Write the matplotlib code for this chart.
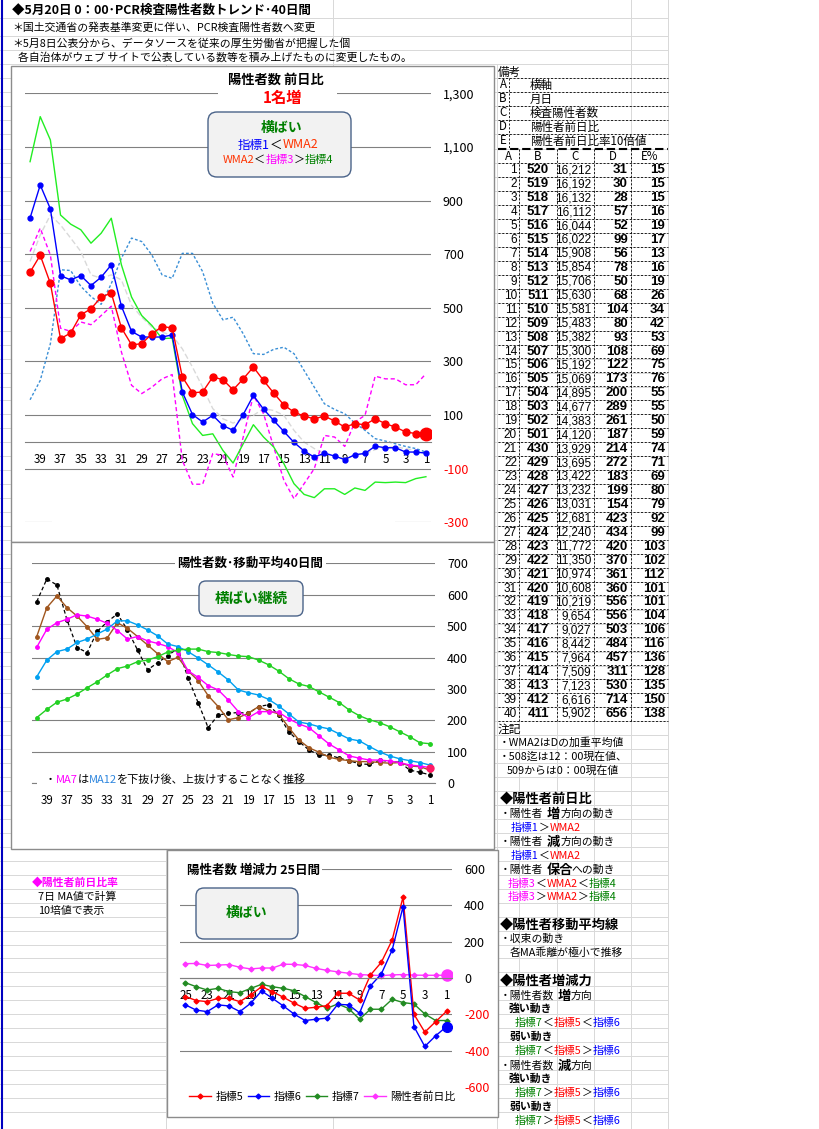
import matplotlib
matplotlib.use('Agg')
import matplotlib.pyplot as plt
from matplotlib.patches import Rectangle, FancyBboxPatch

plt.rcParams['font.family'] = ['Noto Sans CJK JP', 'DejaVu Sans']
plt.rcParams['axes.unicode_minus'] = False

# ---------------- data ----------------
days40 = list(range(40, 0, -1))
days25 = list(range(25, 0, -1))

# chart 1 : 陽性者数 前日比
ind1 = [835, 958, 869, 620, 604, 620, 583, 614, 660, 506, 412, 391, 391, 391, 399, 186, 102, 74, 99, 61,
        43, 102, 173, 122, 80, 39, -2, -34, -57, -42, -53, -66, -48, -43, -16, -22, -22, -38, -38, -42]
wma2 = [633, 696, 591, 385, 406, 474, 496, 540, 555, 425, 362, 366, 403, 430, 425, 242, 183, 186, 242, 232,
        194, 235, 279, 229, 182, 138, 111, 96, 86, 96, 78, 55, 68, 64, 86, 68, 55, 37, 31, 31]
ind2 = [157, 229, 366, 642, 639, 580, 542, 513, 590, 685, 760, 747, 697, 623, 610, 703, 703, 635, 517, 455,
        465, 403, 329, 326, 345, 353, 329, 266, 204, 142, 121, 105, 70, 43, 12, 3, -7, -17, -25, -38]
ind3 = [710, 797, 697, 424, 412, 447, 437, 471, 506, 335, 211, 180, 204, 235, 251, -69, -158, -158, -44, -50,
        -131, 18, 173, 105, -19, -143, -212, -156, -100, 24, 18, -17, 74, 99, 245, 235, 235, 213, 213, 254]
ind4 = [1045, 1213, 1126, 846, 812, 791, 741, 778, 834, 660, 540, 471, 434, 385, 387, 173, 68, 24, 30, -32,
        -79, -7, 64, 18, -19, -81, -156, -196, -208, -175, -175, -196, -172, -181, -150, -152, -150, -152, -137, -130]
gray = [673, 772, 846, 809, 760, 710, 623, 610, 623, 604, 509, 465, 428, 409, 397, 347, 279, 204, 124, 86,
        70, 86, 99, 124, 117, 99, 43, -1, -25, -44, -50, -63, -50, -44, -29, -19, -19, -25, -32, -42]

# chart 2 : 移動平均
ma3 = [578, 650, 631, 520, 432, 416, 483, 514, 539, 488, 424, 361, 384, 406, 430, 336, 257, 177, 217, 223,
       225, 223, 244, 250, 217, 164, 133, 106, 90, 90, 80, 72, 62, 60, 74, 69, 67, 42, 35, 27]
ma5 = [467, 559, 596, 559, 532, 498, 458, 463, 511, 493, 467, 440, 412, 387, 401, 358, 327, 279, 244, 202,
       209, 223, 244, 230, 221, 177, 138, 113, 99, 83, 76, 72, 69, 69, 66, 64, 66, 55, 53, 42]
ma7 = [433, 490, 511, 522, 536, 532, 522, 509, 486, 459, 467, 453, 445, 435, 416, 358, 337, 311, 297, 265,
       228, 209, 228, 228, 226, 205, 189, 177, 151, 125, 106, 87, 80, 74, 74, 71, 66, 58, 55, 50]
ma12 = [339, 392, 419, 427, 448, 459, 475, 491, 517, 517, 504, 488, 469, 443, 435, 419, 399, 377, 354, 329,
        297, 288, 281, 267, 246, 221, 195, 189, 180, 173, 157, 141, 135, 117, 100, 87, 78, 72, 66, 58]
ma24 = [209, 235, 258, 268, 284, 304, 323, 345, 365, 373, 387, 392, 403, 418, 424, 427, 427, 419, 416, 410,
        405, 403, 392, 377, 357, 333, 316, 308, 291, 274, 257, 233, 215, 202, 193, 180, 164, 148, 129, 126]

# chart 3 : 増減力
ind5 = [-102, -124, -130, -112, -112, -130, -93, -48, -75, -106, -139, -167, -161, -152, -84, -84, -121,
        16, 86, 209, 446, -199, -298, -240, -183]
ind6 = [-148, -177, -185, -148, -154, -185, -139, -71, -112, -154, -199, -234, -227, -221, -145, -148, -194,
        -44, 22, 154, 392, -267, -377, -318, -267]
ind7 = [-26, -48, -66, -57, -75, -81, -57, -35, -48, -57, -70, -102, -135, -167, -143, -168, -227, -172,
        -172, -117, -135, -143, -198, -234, -234]
ratio = [79, 80, 69, 71, 74, 59, 50, 55, 55, 76, 75, 69, 53, 42, 34, 26, 19, 16, 13, 17, 19, 16, 15, 15, 15]

# table
tbl_B = [520, 519, 518, 517, 516, 515, 514, 513, 512, 511, 510, 509, 508, 507, 506, 505, 504, 503, 502, 501,
         430, 429, 428, 427, 426, 425, 424, 423, 422, 421, 420, 419, 418, 417, 416, 415, 414, 413, 412, 411]
tbl_C = [16212, 16192, 16132, 16112, 16044, 16022, 15908, 15854, 15706, 15630, 15581, 15483, 15382, 15300,
         15192, 15069, 14895, 14677, 14383, 14120, 13929, 13695, 13422, 13232, 13031, 12681, 12240, 11772,
         11350, 10974, 10608, 10219, 9654, 9027, 8442, 7964, 7509, 7123, 6616, 5902]
tbl_D = [31, 30, 28, 57, 52, 99, 56, 78, 50, 68, 104, 80, 93, 108, 122, 173, 200, 289, 261, 187,
         214, 272, 183, 199, 154, 423, 434, 420, 370, 361, 360, 556, 556, 503, 484, 457, 311, 530, 714, 656]
tbl_E = [15, 15, 15, 16, 19, 17, 13, 16, 19, 26, 34, 42, 53, 69, 75, 76, 55, 55, 50, 59,
         74, 71, 69, 80, 79, 92, 99, 103, 102, 112, 101, 101, 104, 106, 116, 136, 128, 135, 150, 138]

# ---------------- figure ----------------
W, H = 819, 1129
fig = plt.figure(figsize=(W / 100, H / 100), dpi=100)
R = fig.canvas.get_renderer()
PX = 0.72  # 1 px in points


def frect(x0, y0, x1, y1):
    return [x0 / W, 1 - y1 / H, (x1 - x0) / W, (y1 - y0) / H]


def pix_axes(z):
    a = fig.add_axes([0, 0, 1, 1], zorder=z)
    a.set_xlim(0, W)
    a.set_ylim(H, 0)
    a.axis('off')
    a.patch.set_alpha(0)
    return a


bg = pix_axes(0)
ov = pix_axes(10)


def rich(ax, x, y, parts, size, weight='normal', ha='left', family=None):
    arts, ws = [], []
    for p in parts:
        kw = dict(fontsize=p[3] if len(p) > 3 else size, color=p[1],
                  fontweight=p[2] if len(p) > 2 else weight, va='center', ha='left', zorder=6)
        if family:
            kw['family'] = family
        t = ax.text(0, y, p[0], **kw)
        arts.append(t)
        ws.append(t.get_window_extent(R).width)
    tot = sum(ws)
    x0 = x - tot / 2 if ha == 'center' else (x - tot if ha == 'right' else x)
    for t, w in zip(arts, ws):
        t.set_x(x0)
        x0 += w
    return tot


# ---------------- spreadsheet background ----------------
GRID = '#D9D9D9'
rows = [18, 36, 50, 64, 78, 92, 106, 120, 134] + [149.35 + 13.95 * k for k in range(0, 70)]
for y in rows:
    if y < H:
        bg.plot([0, 668], [y, y], color=GRID, lw=PX, zorder=1)
bg.plot([333, 333], [0, H], color=GRID, lw=PX, zorder=1)
bg.plot([166, 166], [64, H], color=GRID, lw=PX, zorder=1)
bg.plot([497, 497], [64, H], color=GRID, lw=PX, zorder=1)
for x in (519, 557, 594):
    bg.plot([x, x], [149, H], color=GRID, lw=PX, zorder=1)
for x in (631, 668):
    bg.plot([x, x], [0, H], color=GRID, lw=PX, zorder=1)
bg.plot([1.5, 1.5], [0, H], color='#0000C0', lw=1.5, zorder=3)

# chart boxes
for (x0, y0, x1, y1) in [(10.5, 65.5, 494, 542), (10.5, 542, 494, 849), (167, 850, 498, 1117)]:
    bg.add_patch(Rectangle((x0, y0), x1 - x0, y1 - y0, facecolor='white', edgecolor='#8C8C8C',
                           lw=1.0, zorder=5))

# header texts
bg.text(12, 10, '◆5月20日 0：00･PCR検査陽性者数トレンド･40日間', fontsize=9.0, fontweight='bold',
        va='center', zorder=6)
bg.text(12, 27, '＊国土交通省の発表基準変更に伴い、PCR検査陽性者数へ変更', fontsize=7.8, va='center', zorder=6)
bg.text(12, 43.5, '＊5月8日公表分から、データソースを従来の厚生労働省が把握した個', fontsize=7.8, va='center',
        zorder=6)
bg.text(18, 57.5, '各自治体がウェブ サイトで公表している数等を積み上げたものに変更したもの。', fontsize=7.8,
        va='center', zorder=6)

# ---------------- right table ----------------
NARROW = ['Liberation Sans Narrow', 'Liberation Sans', 'DejaVu Sans']
bg.text(498, 72, '備考', fontsize=8.3, va='center', zorder=6)
defs = [('A', '横軸'), ('B', '月日'), ('C', '検査陽性者数'), ('D', '陽性者前日比'), ('E', '陽性者前日比率10倍値')]
for k, (a, b) in enumerate(defs):
    yc = 85 + 14 * k
    bg.text(503, yc, a, fontsize=8.3, va='center', ha='center', zorder=6)
    bg.text(530, yc, b, fontsize=8.3, va='center', zorder=6)
for y in (78, 92, 106, 120, 134):
    bg.plot([498, 668], [y, y], color='k', lw=0.6, ls=(0, (2.5, 2)), zorder=4)
bg.plot([509, 509], [78, 148], color='k', lw=0.6, ls=(0, (2.5, 2)), zorder=4)
bg.plot([498, 668], [148.5, 148.5], color='k', lw=1.5, ls=(0, (4, 1.8)), zorder=4)
for lab, xc in zip(['A', 'B', 'C', 'D', 'E%'], [508.5, 538, 575.5, 612.5, 649.5]):
    bg.text(xc, 156, lab, fontsize=8.3, va='center', ha='center', zorder=6)
for k in range(41):
    y = 163.3 + 13.94 * k
    bg.plot([498, 668], [y, y], color='k', lw=0.6, ls=(0, (2.5, 2)), zorder=4)
for x in (519, 557, 594, 631):
    bg.plot([x, x], [149, 721], color='k', lw=0.6, ls=(0, (2.5, 2)), zorder=4)
for k in range(40):
    yc = 170.3 + 13.94 * k
    bg.text(517, yc, str(k + 1), fontsize=8.5, family=NARROW, va='center', ha='right', zorder=6)
    bg.text(538, yc, str(tbl_B[k]), fontsize=9.5, fontweight='bold', family=NARROW, va='center',
            ha='center', zorder=6)
    bg.text(591, yc, f'{tbl_C[k]:,}', fontsize=8.5, family=NARROW, va='center', ha='right', zorder=6)
    bg.text(628, yc, str(tbl_D[k]), fontsize=9.5, fontweight='bold', family=NARROW, va='center',
            ha='right', zorder=6)
    bg.text(665, yc, str(tbl_E[k]), fontsize=9.5, fontweight='bold', family=NARROW, va='center',
            ha='right', zorder=6)

# notes
BL, RD, MG, GN, K = '#0000FF', '#FF0000', '#FF00FF', '#008000', '#000000'
NS = 7.8
bg.text(498, 729, '注記', fontsize=8.5, va='center', zorder=6)
bg.text(499, 743, '・WMA2はDの加重平均値', fontsize=NS, va='center', zorder=6)
bg.text(499, 757, '・508迄は12：00現在値、', fontsize=NS, va='center', zorder=6)
bg.text(507, 771, '509からは0：00現在値', fontsize=NS, va='center', zorder=6)
bg.text(500, 799, '◆陽性者前日比', fontsize=9.5, fontweight='bold', va='center', zorder=6)


def updown(y, head, mark, tail, xm, xt):
    bg.text(500, y, head, fontsize=NS, va='center', zorder=6)
    bg.text(xm, y, mark, fontsize=9.5, fontweight='bold', va='center', zorder=6)
    bg.text(xt, y, tail, fontsize=NS, va='center', zorder=6)


updown(814, '・陽性者', '増', '方向の動き', 547, 561)
rich(bg, 511, 828, [('指標1', BL), ('＞', K), ('WMA2', RD)], NS)
updown(842, '・陽性者', '減', '方向の動き', 547, 561)
rich(bg, 511, 856, [('指標1', BL), ('＜', K), ('WMA2', RD)], NS)
updown(870, '・陽性者', '保合', 'への動き', 547, 571)
rich(bg, 508, 884, [('指標3', MG), ('＜', K), ('WMA2', RD), ('＜', K), ('指標4', GN)], NS)
rich(bg, 508, 897, [('指標3', MG), ('＞', K), ('WMA2', RD), ('＞', K), ('指標4', GN)], NS)
bg.text(500, 925, '◆陽性者移動平均線', fontsize=9.5, fontweight='bold', va='center', zorder=6)
bg.text(500, 939, '・収束の動き', fontsize=NS, va='center', zorder=6)
bg.text(510, 953, '各MA乖離が極小で推移', fontsize=NS, va='center', zorder=6)
bg.text(500, 981, '◆陽性者増減力', fontsize=9.5, fontweight='bold', va='center', zorder=6)
updown(996, '・陽性者数', '増', '方向', 558, 571)
bg.text(509, 1009, '強い動き', fontsize=NS, fontweight='bold', va='center', zorder=6)
rich(bg, 515, 1023, [('指標7', GN), ('＜', K), ('指標5', RD), ('＜', K), ('指標6', BL)], NS)
bg.text(510, 1037, '弱い動き', fontsize=NS, fontweight='bold', va='center', zorder=6)
rich(bg, 515, 1051, [('指標7', GN), ('＜', K), ('指標5', RD), ('＞', K), ('指標6', BL)], NS)
updown(1066, '・陽性者数', '減', '方向', 558, 571)
bg.text(509, 1079, '強い動き', fontsize=NS, fontweight='bold', va='center', zorder=6)
rich(bg, 515, 1093, [('指標7', GN), ('＞', K), ('指標5', RD), ('＞', K), ('指標6', BL)], NS)
bg.text(510, 1107, '弱い動き', fontsize=NS, fontweight='bold', va='center', zorder=6)
rich(bg, 515, 1121, [('指標7', GN), ('＞', K), ('指標5', RD), ('＜', K), ('指標6', BL)], NS)

# left notes
bg.text(32, 883, '◆陽性者前日比率', fontsize=NS, color=MG, fontweight='bold', va='center', zorder=6)
bg.text(38, 897, '7日 MA値で計算', fontsize=NS, va='center', zorder=6)
bg.text(38, 911, '10培値で表示', fontsize=NS, va='center', zorder=6)


# ---------------- charts ----------------
def setup(ax, ylim, yticks, xpos, xlabels):
    ax.set_facecolor('none')
    ax.set_ylim(*ylim)
    ax.set_yticks(yticks)
    ax.set_yticklabels([f'{v:,}' for v in yticks])
    ax.yaxis.tick_right()
    for t, v in zip(ax.yaxis.get_major_ticks(), yticks):
        t.label2.set_color(RD if v < 0 else K)
    ax.set_xticks(xpos)
    ax.set_xticklabels(xlabels)
    ax.grid(axis='y', color='#808080', lw=0.8)
    ax.set_axisbelow(True)
    for s in ('top', 'left', 'right'):
        ax.spines[s].set_visible(False)
    ax.spines['bottom'].set_position(('data', 0))
    ax.spines['bottom'].set_color('#808080')
    ax.spines['bottom'].set_linewidth(0.8)
    ax.tick_params(length=0)
    ax.tick_params(axis='y', pad=8.6, labelsize=9)
    ax.tick_params(axis='x', pad=8, labelsize=8.3)


x40 = list(range(40))
odd40 = [i for i, d in enumerate(days40) if d % 2 == 1]
x25 = list(range(25))
odd25 = [i for i, d in enumerate(days25) if d % 2 == 1]

# chart 1
ax1 = fig.add_axes(frect(25, 93.3, 431, 522.3), zorder=2)
ax1.set_xlim(-0.5, 39.5)
setup(ax1, (-300, 1300), list(range(-300, 1301, 200)), odd40, [str(days40[i]) for i in odd40])
lg, = ax1.plot(x40, gray, color='#D9D9D9', lw=1.0, ls=(0, (4, 2)))
l2, = ax1.plot(x40, ind2, color='#3A8FD6', lw=1.0, ls=(0, (2, 1.5)))
l3, = ax1.plot(x40, ind3, color='#FF00FF', lw=1.0, ls=(0, (3, 2)))
l4, = ax1.plot(x40, ind4, color='#22EE22', lw=1.0)
l1, = ax1.plot(x40, ind1, color='#0000FF', lw=1.0, marker='o', ms=3.5)
lw2, = ax1.plot(x40, wma2, color='#FF0000', lw=1.0, marker='o', ms=5)
ax1.plot(x40[-1:], wma2[-1:], color='#FF0000', marker='o', ms=9, ls='none')

ov.add_patch(Rectangle((218, 70), 119, 37, facecolor='white', edgecolor='none', zorder=1))
ov.text(276, 80, '陽性者数 前日比', fontsize=9.5, fontweight='bold', ha='center', va='center', zorder=6)
ov.text(283, 98, '1名増', fontsize=11, fontweight='bold', color=RD, ha='center', va='center', zorder=6)
ov.add_patch(FancyBboxPatch((208, 112), 143, 65, boxstyle='round,pad=0,rounding_size=9',
                            facecolor='#F2F2F2', edgecolor='#4A6389', lw=1.0, zorder=2))
ov.text(282, 128, '横ばい', fontsize=10, fontweight='bold', color=GN, ha='center', va='center', zorder=6)
rich(ov, 278, 145, [('指標1', BL), ('＜', K), ('WMA2', '#FF3300')], 9, ha='center')
rich(ov, 278, 160, [('WMA2', '#FF3300'), ('＜', K), ('指標3', MG), ('＞', K), ('指標4', GN)], 8,
     ha='center')
ov.add_patch(Rectangle((52, 516), 343, 12, facecolor='white', edgecolor='none', zorder=1))
ov.legend([l1, l2, lg, l3, lw2, l4], ['指標1', '指標2', '', '指標3', 'WMA2', '指標4'],
          loc='upper left', bbox_to_anchor=(78 / W, 1 - 502 / H), bbox_transform=fig.transFigure,
          ncol=3, fontsize=8, handlelength=2.9, handletextpad=0.45, columnspacing=4.4,
          borderpad=0, labelspacing=0.15, frameon=False)

# chart 2
ax2 = fig.add_axes(frect(31.7, 563.3, 435, 783.3), zorder=2)
ax2.set_xlim(-0.5, 39.5)
setup(ax2, (0, 700), list(range(0, 701, 100)), odd40, [str(days40[i]) for i in odd40])
m3, = ax2.plot(x40, ma3, color='#000000', lw=0.9, ls=(0, (3, 2)), marker='o', ms=2.5)
m5, = ax2.plot(x40, ma5, color='#A0561E', lw=1.0, marker='o', ms=2.5)
m7, = ax2.plot(x40, ma7, color='#FF00FF', lw=1.0, marker='o', ms=2.5)
m12, = ax2.plot(x40, ma12, color='#00A0F0', lw=1.0, marker='o', ms=2.5)
m24, = ax2.plot(x40, ma24, color='#22D022', lw=1.0, marker='o', ms=2.5)
ax2.plot(x40[-1:], ma7[-1:], color='#FF1A66', marker='o', ms=5, ls='none')

ov.add_patch(Rectangle((175, 555), 151, 16, facecolor='white', edgecolor='none', zorder=1))
ov.text(250.5, 563, '陽性者数･移動平均40日間', fontsize=9, fontweight='bold', ha='center', va='center',
        zorder=6)
ov.add_patch(FancyBboxPatch((199, 581), 104, 35, boxstyle='round,pad=0,rounding_size=7',
                            facecolor='#F2F2F2', edgecolor='#4A6389', lw=1.0, zorder=2))
ov.text(251, 598, '横ばい継続', fontsize=10.5, fontweight='bold', color=GN, ha='center', va='center',
        zorder=6)
ov.add_patch(Rectangle((37, 774), 248, 14, facecolor='white', edgecolor='none', zorder=1))
rich(ov, 45, 780, [('・', K), ('MA7', '#FF00FF'), ('は', K), ('MA12', '#2E86DE'),
                   ('を下抜け後、上抜けすることなく推移', K)], 8)
ov.legend([m3, m5, m7, m12, m24], ['MA3', 'MA5', 'MA7', 'MA12', 'MA24'],
          loc='upper left', bbox_to_anchor=(64 / W, 1 - 817 / H), bbox_transform=fig.transFigure,
          ncol=5, fontsize=9.5, handlelength=2.6, handletextpad=0.3, columnspacing=0.85,
          borderpad=0, frameon=False)

# chart 3
ax3 = fig.add_axes(frect(180, 869, 452, 1087), zorder=2)
ax3.set_xlim(-0.5, 24.5)
setup(ax3, (-600, 600), list(range(-600, 601, 200)), odd25, [str(days25[i]) for i in odd25])
n7, = ax3.plot(x25, ind7, color='#228B22', lw=1.0, marker='D', ms=2.5)
nr, = ax3.plot(x25, ratio, color='#FF33FF', lw=1.0, marker='D', ms=2.5)
n5, = ax3.plot(x25, ind5, color='#FF0000', lw=1.0, marker='D', ms=2.5)
n6, = ax3.plot(x25, ind6, color='#0000FF', lw=1.0, marker='D', ms=2.5)
ax3.plot(x25[-1:], ind6[-1:], color='#0000FF', marker='o', ms=7, ls='none')
ax3.plot(x25[-1:], ratio[-1:], color='#FF33FF', marker='o', ms=8, ls='none')

ov.add_patch(Rectangle((177, 862), 145, 17, facecolor='white', edgecolor='none', zorder=1))
ov.text(187, 870.5, '陽性者数 増減力 25日間', fontsize=9, fontweight='bold', ha='left', va='center',
        zorder=6)
ov.add_patch(FancyBboxPatch((196, 888), 102, 51, boxstyle='round,pad=0,rounding_size=8',
                            facecolor='#F2F2F2', edgecolor='#4A6389', lw=1.0, zorder=2))
ov.text(247, 913, '横ばい', fontsize=10, fontweight='bold', color=GN, ha='center', va='center', zorder=6)
ov.add_patch(Rectangle((177, 1082), 278, 8, facecolor='white', edgecolor='none', zorder=1))
ov.legend([n5, n6, n7, nr], ['指標5', '指標6', '指標7', '陽性者前日比'],
          loc='upper left', bbox_to_anchor=(184 / W, 1 - 1086 / H), bbox_transform=fig.transFigure,
          ncol=4, fontsize=7.8, handlelength=2.0, handletextpad=0.4, columnspacing=0.4,
          borderpad=0, frameon=False)

fig.savefig('out.png', dpi=100, facecolor='white')
